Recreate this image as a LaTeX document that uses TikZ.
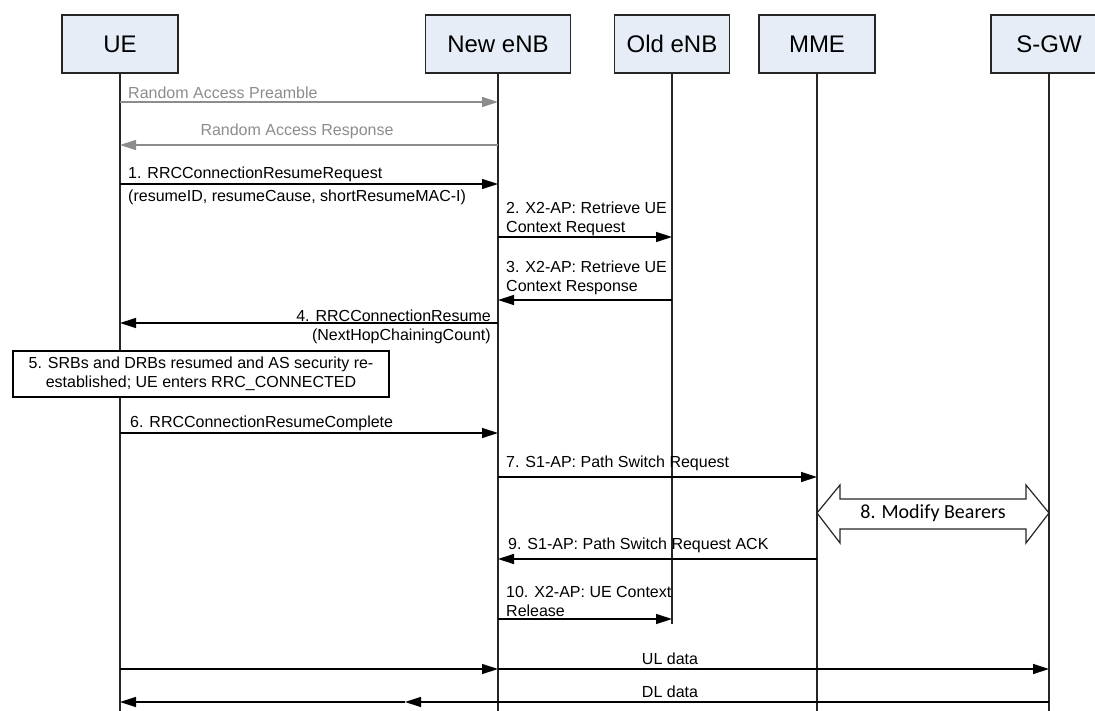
\documentclass[tikz,border=0pt]{standalone}
\usepackage{fontspec}
\setmainfont{Liberation Sans}
\newfontfamily\bearerfont{Carlito}
\usetikzlibrary{arrows.meta}
\definecolor{entityfill}{RGB}{231,237,247}
\definecolor{ragray}{RGB}{140,140,140}

\begin{document}
\begin{tikzpicture}[x=1pt, y=-1pt,
    entity/.style={draw=black!85, line width=1.2pt, fill=entityfill, minimum height=58pt, inner sep=0pt,
        font=\fontsize{24}{28}\selectfont},
    life/.style={line width=1.2pt, black!85},
    msg/.style={line width=1.3pt, -{Triangle[length=16pt,width=10pt]}},
    ramsg/.style={msg, draw=ragray},
    lbl/.style={inner sep=0pt, align=left, font=\fontsize{16}{19}\selectfont},
    ralbl/.style={lbl, text=ragray}]
    \useasboundingbox (0,0) rectangle (1095,711);
    \clip (0,0) rectangle (1095,711);

    \node[entity, minimum width=116pt] (ue) at (120,44) {UE};
    \node[entity, minimum width=145pt] (newenb) at (498,44) {New eNB};
    \node[entity, minimum width=115pt] (oldenb) at (672,44) {Old eNB};
    \node[entity, minimum width=116pt] (mme) at (817,44) {MME};
    \node[entity, minimum width=116pt] (sgw) at (1049,44) {S-GW};

    \draw[life] (ue.south) -- (ue |- 0,711);
    \draw[life] (newenb.south) -- (newenb |- 0,711);
    \draw[life] (oldenb.south) -- (oldenb |- 0,624);
    \draw[life] (mme.south) -- (mme |- 0,711);
    \draw[life] (sgw.south) -- (sgw |- 0,711);

    \draw[ramsg] (ue |- 0,102) -- (newenb |- 0,102);
    \node[ralbl, anchor=west] (rapre) at (128,93) {Random Access Preamble};
    \draw[ramsg] (newenb |- 0,145) -- (ue |- 0,145);
    \node[ralbl] (raresp) at (297,131) {Random Access Response};

    \draw[msg] (ue |- 0,184) -- (newenb |- 0,184);
    \node[lbl, anchor=west] (req) at (128,174) {1. RRCConnectionResumeRequest};
    \node[lbl, anchor=west] (reqpar) at (128,197) {(resumeID, resumeCause, shortResumeMAC-I)};

    \draw[msg] (newenb |- 0,237) -- (oldenb |- 0,237);
    \node[lbl, anchor=west] (ctxreq) at (506,219) {2. X2-AP: Retrieve UE\\Context Request};
    \draw[msg] (oldenb |- 0,300) -- (newenb |- 0,300);
    \node[lbl, anchor=west] (ctxresp) at (506,278) {3. X2-AP: Retrieve UE\\Context Response};

    \draw[msg] (newenb |- 0,323) -- (ue |- 0,323);
    \node[lbl, anchor=east] (resume) at (491,316) {4. RRCConnectionResume};
    \node[lbl, anchor=east] (resumepar) at (491,336) {(NextHopChainingCount)};

    \node[lbl, draw, line width=1.2pt, fill=white, align=center, minimum width=376pt, minimum height=46pt]
        (resumed) at (201,374) {5. SRBs and DRBs resumed and AS security re-\\established; UE enters RRC\_CONNECTED};

    \draw[msg] (ue |- 0,433) -- (newenb |- 0,433);
    \node[lbl, anchor=west] (complete) at (130,423) {6. RRCConnectionResumeComplete};

    \draw[msg] (newenb |- 0,477) -- (mme |- 0,477);
    \node[lbl, anchor=west] (pathsw) at (506,463) {7. S1-AP: Path Switch Request};

    \draw[line width=1.2pt, black!85, fill=white] (mme |- 0,513) -- ++(23,-28) -- ++(0,14) -- ++(186,0)
        -- ++(0,-14) -- ++(23,28) -- ++(-23,30) -- ++(0,-14) -- ++(-186,0) -- ++(0,14) -- cycle;
    \node[inner sep=0pt, font=\bearerfont\fontsize{20}{24}\selectfont] (bearers) at (933,513) {8. Modify Bearers};

    \draw[msg] (mme |- 0,559) -- (newenb |- 0,559);
    \node[lbl, anchor=west] (pathack) at (508,545) {9. S1-AP: Path Switch Request ACK};

    \draw[msg] (newenb |- 0,619) -- (oldenb |- 0,619);
    \node[lbl, anchor=west] (release) at (506,601) {10. X2-AP: UE Context\\Release};

    \draw[msg] (ue |- 0,669) -- (newenb |- 0,669);
    \draw[msg] (newenb |- 0,669) -- (sgw |- 0,669);
    \node[lbl] (uldata) at (670,659) {UL data};

    \coordinate (dlmid) at (405,702);
    \draw[msg] (sgw |- 0,702) -- (dlmid);
    \draw[msg] (dlmid) -- (ue |- 0,702);
    \node[lbl] (dldata) at (670,692) {DL data};
\end{tikzpicture}
\end{document}
